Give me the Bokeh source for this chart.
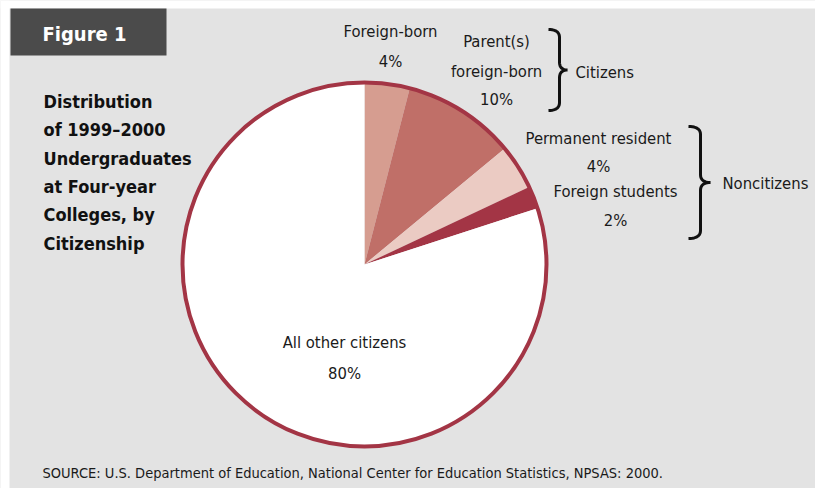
import numpy as np
from bokeh.plotting import figure
from bokeh.models import ColumnDataSource
from bokeh.core.properties import value
from bokeh.embed import file_html
from bokeh.resources import INLINE

# ---- data ----
categories = ["Foreign-born", "Parent(s) foreign-born", "Permanent resident",
              "Foreign students", "All other citizens"]
shares = [4, 10, 4, 2, 80]
colors = ["#d69d90", "#c06f68", "#ebcbc3", "#a33545", "#ffffff"]
groups = ["Citizens", "Noncitizens"]
title_lines = ["Distribution", "of 1999\u20132000", "Undergraduates",
               "at Four-year", "Colleges, by", "Citizenship"]
source_note = "SOURCE: U.S. Department of Education, National Center for Education Statistics, NPSAS: 2000."

W, H = 815, 488
FONT = "DejaVu Sans Condensed"

def X(px):
    return px

def Y(py):
    return H - py

p = figure(width=W, height=H, x_range=(0, W), y_range=(0, H),
           output_backend="svg", toolbar_location=None, min_border=0)
p.axis.visible = False
p.grid.visible = False
p.outline_line_color = None
p.background_fill_color = "#e3e3e3"
p.border_fill_color = "#e3e3e3"

# white page strip outside panel
p.quad(left=0, right=X(9), top=H, bottom=0, fill_color="white", line_color=None)
p.quad(left=0, right=W, top=H, bottom=Y(8), fill_color="white", line_color=None)

# title box
p.quad(left=X(10), right=X(166), top=Y(8), bottom=Y(55), fill_color="#4b4b4b", line_color=None)
p.text(x=[X(84)], y=[Y(33)], text=["Figure 1"], text_color="white",
       text_font=value(FONT), text_font_style="bold", text_font_size="20px",
       text_align="center", text_baseline="middle")

# left title
p.text(x=[X(43)] * len(title_lines), y=[Y(101 + 28.3 * i) for i in range(len(title_lines))],
       text=title_lines, text_color="#111111", text_font=value(FONT),
       text_font_style="bold", text_font_size="18px", text_align="left", text_baseline="middle")

# pie
vals = np.array(shares, dtype=float)
frac = vals / vals.sum()
cum = np.concatenate([[0], np.cumsum(frac)])
start = np.pi / 2 - cum[:-1] * 2 * np.pi
end = np.pi / 2 - cum[1:] * 2 * np.pi
src = ColumnDataSource(dict(start=start, end=end, color=colors, cat=categories))
cx, cy, r = X(364), Y(264), 182
p.wedge(x=cx, y=cy, radius=r, start_angle="start", end_angle="end",
        direction="clock", fill_color="color", line_color=None, source=src)
p.circle(x=[cx], y=[cy], radius=r, fill_color=None, line_color="#a33545", line_width=4)

# labels
lab_x = [390, 390, 496, 496, 496, 598, 598, 615, 615, 344, 344]
lab_y = [31, 61, 41, 71, 99, 138, 166, 191, 220, 342, 373]
lab_t = [categories[0], f"{shares[0]}%", "Parent(s)", "foreign-born", f"{shares[1]}%",
         categories[2], f"{shares[2]}%", categories[3], f"{shares[3]}%",
         categories[4], f"{shares[4]}%"]
p.text(x=[X(v) for v in lab_x], y=[Y(v) for v in lab_y], text=lab_t,
       text_color="#1a1a1a", text_font=value(FONT), text_font_size="16.5px",
       text_align="center", text_baseline="middle")

# braces
def brace(xl, xs, xt, y0, y1):
    ym = (y0 + y1) / 2
    t = np.linspace(0, 1, 12)
    def q(a, b, c):
        return [(1 - s) ** 2 * a[0] + 2 * (1 - s) * s * b[0] + s ** 2 * c[0] for s in t], \
               [(1 - s) ** 2 * a[1] + 2 * (1 - s) * s * b[1] + s ** 2 * c[1] for s in t]
    k = 8
    segs = [q((xl, y0), (xs, y0), (xs, y0 + k)),
            q((xs, y0 + k), (xs, ym - k), (xs, ym - k)),
            q((xs, ym - k), (xs, ym), (xt, ym)),
            q((xt, ym), (xs, ym), (xs, ym + k)),
            q((xs, ym + k), (xs, y1 - k), (xs, y1 - k)),
            q((xs, y1 - k), (xs, y1), (xl, y1))]
    xs_all, ys_all = [], []
    for a, b in segs:
        xs_all += a
        ys_all += b
    return [X(v) for v in xs_all], [Y(v) for v in ys_all]

bx, by = brace(548, 559, 567, 29, 110)
p.line(bx, by, line_color="#111111", line_width=3)
bx, by = brace(688, 700, 710, 126, 238)
p.line(bx, by, line_color="#111111", line_width=3)
p.text(x=[X(575), X(722)], y=[Y(72), Y(183)], text=groups, text_color="#1a1a1a",
       text_font=value(FONT), text_font_size="16.5px", text_align="left", text_baseline="middle")

# source
p.text(x=[X(42)], y=[Y(472)], text=[source_note], text_color="#1a1a1a",
       text_font=value(FONT), text_font_size="14.5px", text_align="left", text_baseline="middle")

open("out.html", "w").write(file_html(p, INLINE))
